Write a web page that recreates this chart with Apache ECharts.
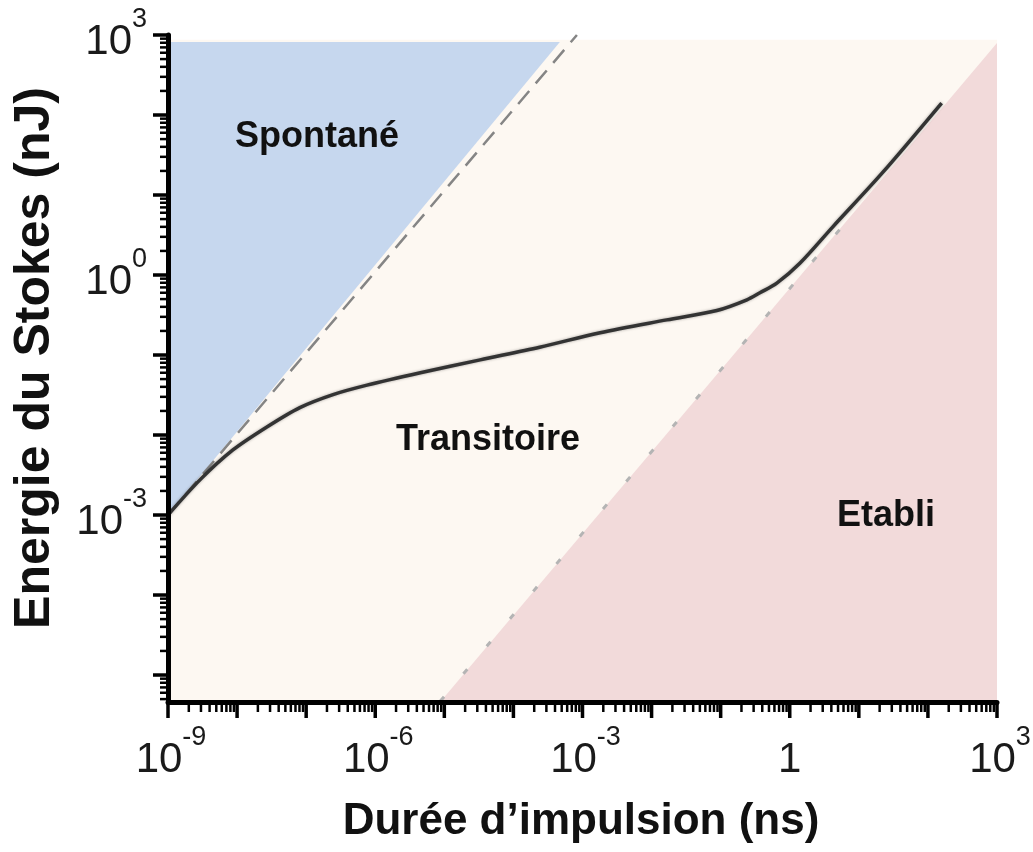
<!DOCTYPE html>
<html>
<head>
<meta charset="utf-8">
<script src="https://cdn.jsdelivr.net/npm/echarts@6/dist/echarts.min.js"></script>
<style>
  html, body { margin: 0; padding: 0; background: #fff; }
  #chart { width: 1033px; height: 852px; }
</style>
</head>
<body>
<div id="chart"></div>
<script>
// axes (ns / nJ)
const xMin = 1e-9, xMax = 1e3;
const yMin = 4.6e-6, yMax = 1e3;

// courbe noire (durée, énergie)
const curveT = [1e-9, 2.9e-9, 8.7e-9, 2.7e-8, 8.1e-8, 2.45e-7, 7.6e-7, 4.5e-6, 3.3e-5, 2.4e-4,
  1.8e-3, 1.66e-2, 8.8e-2, 0.24, 0.37, 0.65, 1.4, 4.2, 22, 158];
const curveE = [1e-3, 2.75e-3, 6.5e-3, 1.26e-2, 2.2e-2, 3.2e-2, 4.2e-2, 6.0e-2, 8.7e-2, 0.125,
  0.19, 0.275, 0.36, 0.49, 0.6, 0.79, 1.4, 4.0, 19, 141];

// limites des régimes
const spontLine = [[1e-9, 1e-3], [8.3e-4, 1e3]];
const etabliLine = [[8.7e-6, 4.7e-6], [10, 7.1]];

// zones colorées
const transZone = [[1e-9, yMin], [1e-9, 870], [1e3, 870], [1e3, yMin]];
const spontZone = [[1e-9, 1e-3], [1e-9, 820], [4.7e-4, 820]];
const etabliZone = [[8.7e-6, yMin], [1e3, 794], [1e3, yMin]];

// libellés des graduations
const xTickLabels = [
  { value: 1e-9, base: '10', exp: '-9' },
  { value: 1e-6, base: '10', exp: '-6' },
  { value: 1e-3, base: '10', exp: '-3' },
  { value: 1, base: '1', exp: '' },
  { value: 1e3, base: '10', exp: '3' }
];
const yTickLabels = [
  { value: 1e-3, base: '10', exp: '-3' },
  { value: 1, base: '10', exp: '0' },
  { value: 1e3, base: '10', exp: '3' }
];

// graduations log : décades + 2..9
function logTicks(lo, hi) {
  let ticks = [];
  for (let n = Math.floor(Math.log10(lo)); n <= Math.ceil(Math.log10(hi)); n++) {
    for (let k = 1; k <= 9; k++) {
      let v = k * Math.pow(10, n);
      if (v >= lo * 0.999 && v <= hi * 1.001) ticks.push([v, k === 1 ? 1 : 0]);
    }
  }
  return ticks;
}
const xTicks = logTicks(xMin, xMax);
const yTicks = logTicks(yMin, yMax);

const FONT = '"Liberation Sans", Arial, sans-serif';
const rich = {
  b: { fontSize: 42, lineHeight: 57, verticalAlign: 'bottom', fontFamily: FONT, fill: '#1a1a1a', color: '#1a1a1a' },
  s: { fontSize: 27, lineHeight: 27, verticalAlign: 'top', fontFamily: FONT, fill: '#1a1a1a', color: '#1a1a1a' }
};
function labelText(l) {
  return l.exp ? '{b|' + l.base + '}{s|' + l.exp + '}' : '{b|' + l.base + '}';
}

function zone(points, color) {
  return {
    type: 'custom',
    clip: false,
    silent: true,
    data: [points[0]],
    encode: { x: 0, y: 1 },
    renderItem: function (params, api) {
      return {
        type: 'polygon',
        shape: { points: points.map(p => api.coord(p)) },
        style: { fill: color }
      };
    },
    z: 1
  };
}

const chart = echarts.init(document.getElementById('chart'));
const option = {
  animation: false,
  backgroundColor: '#fff',
  grid: { left: 168, right: 36, top: 35, bottom: 150, containLabel: false },
  xAxis: {
    type: 'log',
    logBase: 10,
    min: xMin,
    max: xMax,
    axisLine: { show: true, lineStyle: { color: '#000', width: 5 } },
    axisTick: { show: false },
    axisLabel: { show: false },
    splitLine: { show: false },
    z: 10
  },
  yAxis: {
    type: 'log',
    logBase: 10,
    min: yMin,
    max: yMax,
    axisLine: { show: true, lineStyle: { color: '#000', width: 5 } },
    axisTick: { show: false },
    axisLabel: { show: false },
    splitLine: { show: false },
    z: 10
  },
  graphic: [
    { type: 'text', x: 317, y: 137, z: 50, style: { text: 'Spontané', fontSize: 36, fontWeight: 'bold', fontFamily: FONT, fill: '#111', align: 'center', verticalAlign: 'middle' } },
    { type: 'text', x: 488, y: 440, z: 50, style: { text: 'Transitoire', fontSize: 36, fontWeight: 'bold', fontFamily: FONT, fill: '#111', align: 'center', verticalAlign: 'middle' } },
    { type: 'text', x: 886, y: 516, z: 50, style: { text: 'Etabli', fontSize: 36, fontWeight: 'bold', fontFamily: FONT, fill: '#111', align: 'center', verticalAlign: 'middle' } },
    { type: 'text', x: 581, y: 822, z: 50, style: { text: 'Durée d’impulsion (ns)', fontSize: 44, fontWeight: 'bold', fontFamily: FONT, fill: '#111', align: 'center', verticalAlign: 'middle' } },
    { type: 'text', x: 35, y: 358, rotation: Math.PI / 2, z: 50, style: { text: 'Energie du Stokes (nJ)', fontSize: 50, fontWeight: 'bold', fontFamily: FONT, fill: '#111', align: 'center', verticalAlign: 'middle' } }
  ],
  series: [
    zone(transZone, '#fdf8f2'),
    zone(spontZone, '#c6d7ee'),
    zone(etabliZone, '#f2dada'),
    {
      type: 'line',
      data: spontLine,
      symbol: 'none',
      lineStyle: { color: '#858585', width: 2.5, type: [17, 10] },
      silent: true,
      z: 3
    },
    {
      type: 'line',
      data: etabliLine,
      symbol: 'none',
      lineStyle: { color: '#b4b4b4', width: 3, type: [6, 30] },
      silent: true,
      z: 3
    },
    {
      type: 'line',
      data: curveT.map((t, i) => [t, curveE[i]]),
      symbol: 'none',
      smooth: 0.3,
      lineStyle: { color: '#333', width: 3.5, shadowColor: 'rgba(0,0,0,0.35)', shadowBlur: 3 },
      silent: true,
      z: 5
    },
    {
      // graduations de l'axe x
      type: 'custom',
      clip: false,
      silent: true,
      data: xTicks,
      encode: { x: 0 },
      renderItem: function (params, api) {
        let p = api.coord([api.value(0), yMin]);
        let major = api.value(1) === 1;
        return {
          type: 'line',
          shape: { x1: p[0], y1: p[1], x2: p[0], y2: p[1] + (major ? 16 : 10) },
          style: { stroke: '#000', lineWidth: major ? 3.5 : 2.5 }
        };
      },
      z: 10
    },
    {
      // graduations de l'axe y
      type: 'custom',
      clip: false,
      silent: true,
      data: yTicks.map(t => [xMin, t[0], t[1]]),
      encode: { x: 0, y: 1 },
      renderItem: function (params, api) {
        let p = api.coord([xMin, api.value(1)]);
        let major = api.value(2) === 1;
        return {
          type: 'line',
          shape: { x1: p[0] - (major ? 15 : 8), y1: p[1], x2: p[0], y2: p[1] },
          style: { stroke: '#000', lineWidth: major ? 3.5 : 2.5 }
        };
      },
      z: 10
    },
    {
      type: 'custom',
      clip: false,
      silent: true,
      data: xTickLabels.map(l => [l.value, yMin]),
      encode: { x: 0, y: 1 },
      renderItem: function (params, api) {
        let l = xTickLabels[params.dataIndex];
        let p = api.coord([l.value, yMin]);
        return {
          type: 'text',
          x: p[0] + (l.exp ? 3 : 0),
          y: p[1] + 22,
          style: { text: labelText(l), rich: rich, align: 'center', verticalAlign: 'top', fill: '#1a1a1a' }
        };
      },
      z: 10
    },
    {
      type: 'custom',
      clip: false,
      silent: true,
      data: yTickLabels.map(l => [xMin, l.value]),
      encode: { x: 0, y: 1 },
      renderItem: function (params, api) {
        let l = yTickLabels[params.dataIndex];
        let p = api.coord([xMin, l.value]);
        return {
          type: 'text',
          x: p[0] - 21,
          y: p[1],
          style: { text: labelText(l), rich: rich, align: 'right', verticalAlign: 'middle', fill: '#1a1a1a' }
        };
      },
      z: 10
    }
  ]
};
chart.setOption(option);
</script>
</body>
</html>
